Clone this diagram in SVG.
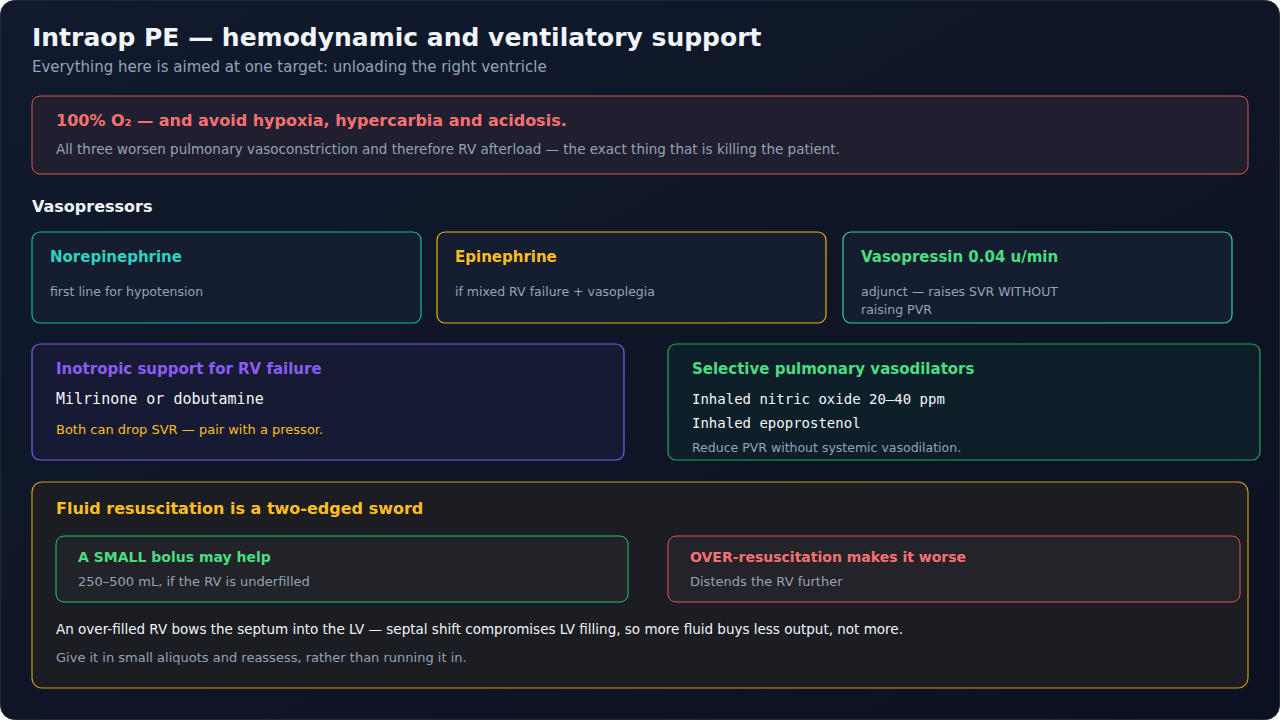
<svg xmlns="http://www.w3.org/2000/svg" width="1280" height="720" viewBox="0 0 1280 720">
<defs>
<linearGradient id="bg" x1="0" y1="0" x2="1" y2="1"><stop offset="0" stop-color="#111a2e"/><stop offset="1" stop-color="#0b1120"/></linearGradient>
</defs>
<style>
text{font-family:"DejaVu Sans",sans-serif}
.mono{font-family:"DejaVu Sans Mono",monospace;fill:#f1f5f9;font-size:14px}
.h{font-weight:bold;font-size:15px}
.s{fill:#94a3b8;font-size:13px}
.ss{fill:#94a3b8;font-size:12.5px}
.card{fill:#151e30;stroke-width:1.2}
</style>
<rect x="0.5" y="0.5" width="1279" height="719" rx="14" fill="url(#bg)" stroke="#1e293b"/>
<text x="32" y="46" font-size="25" font-weight="bold" fill="#f1f5f9">Intraop PE — hemodynamic and ventilatory support</text>
<text x="32" y="72" font-size="15" fill="#94a3b8">Everything here is aimed at one target: unloading the right ventricle</text>
<g id="oxygen">
<rect x="32" y="96" width="1216" height="78" rx="8" fill="#1f1f30" stroke="#dc5454"/>
<text x="56" y="126" font-weight="bold" font-size="16" fill="#f87171">100% O₂ — and avoid hypoxia, hypercarbia and acidosis.</text>
<text x="56" y="154" fill="#94a3b8" font-size="13.5">All three worsen pulmonary vasoconstriction and therefore RV afterload — the exact thing that is killing the patient.</text>
</g>
<text x="32" y="212" font-size="16" font-weight="bold" fill="#f1f5f9">Vasopressors</text>
<g id="norepinephrine">
<rect class="card" x="32" y="232" width="389" height="91" rx="8" stroke="#14b8a6"/>
<text x="50" y="262" class="h" fill="#2dd4bf">Norepinephrine</text>
<text x="50" y="296" class="ss">first line for hypotension</text>
</g>
<g id="epinephrine">
<rect class="card" x="437" y="232" width="389" height="91" rx="8" stroke="#eab308"/>
<text x="455" y="262" class="h" fill="#fbbf24">Epinephrine</text>
<text x="455" y="296" class="ss">if mixed RV failure + vasoplegia</text>
</g>
<g id="vasopressin">
<rect class="card" x="843" y="232" width="389" height="91" rx="8" stroke="#34d399"/>
<text x="861" y="262" class="h" fill="#4ade80">Vasopressin 0.04 u/min</text>
<text x="861" y="296" class="ss">adjunct — raises SVR WITHOUT</text>
<text x="861" y="314" class="ss">raising PVR</text>
</g>
<g id="inotropes">
<rect x="32" y="344" width="592" height="116" rx="8" fill="#161a32" stroke="#7c5cf0" stroke-width="1.2"/>
<text x="56" y="374" class="h" fill="#8b5cf6">Inotropic support for RV failure</text>
<text x="56" y="404" class="mono" style="font-size:15px">Milrinone or dobutamine</text>
<text x="56" y="434" font-size="13" fill="#fbbf24">Both can drop SVR — pair with a pressor.</text>
</g>
<g id="vasodilators">
<rect x="668" y="344" width="592" height="116" rx="8" fill="#0f1f2a" stroke="#22a55a" stroke-width="1.2"/>
<text x="692" y="374" class="h" fill="#4ade80">Selective pulmonary vasodilators</text>
<text x="692" y="404" class="mono">Inhaled nitric oxide 20–40 ppm</text>
<text x="692" y="428" class="mono">Inhaled epoprostenol</text>
<text x="692" y="452" class="ss">Reduce PVR without systemic vasodilation.</text>
</g>
<g id="fluids">
<rect x="32" y="482" width="1216" height="206" rx="10" fill="#1c1d22" stroke="#ca9a1c" stroke-width="1.2"/>
<text x="56" y="514" font-weight="bold" font-size="16" fill="#fbbf24">Fluid resuscitation is a two-edged sword</text>
<g id="small-bolus">
<rect x="56" y="536" width="572" height="66" rx="8" fill="#212328" stroke="#22c55e"/>
<text x="78" y="562" font-size="14" font-weight="bold" fill="#4ade80">A SMALL bolus may help</text>
<text x="78" y="586" class="s">250–500 mL, if the RV is underfilled</text>
</g>
<g id="over-resus">
<rect x="668" y="536" width="572" height="66" rx="8" fill="#242329" stroke="#dc5454"/>
<text x="690" y="562" font-size="14" font-weight="bold" fill="#f87171">OVER-resuscitation makes it worse</text>
<text x="690" y="586" class="s">Distends the RV further</text>
</g>
<text x="56" y="634" font-size="13.5" fill="#f1f5f9">An over-filled RV bows the septum into the LV — septal shift compromises LV filling, so more fluid buys less output, not more.</text>
<text x="56" y="662" class="s">Give it in small aliquots and reassess, rather than running it in.</text>
</g>
<g id="connectors"/>
</svg>
